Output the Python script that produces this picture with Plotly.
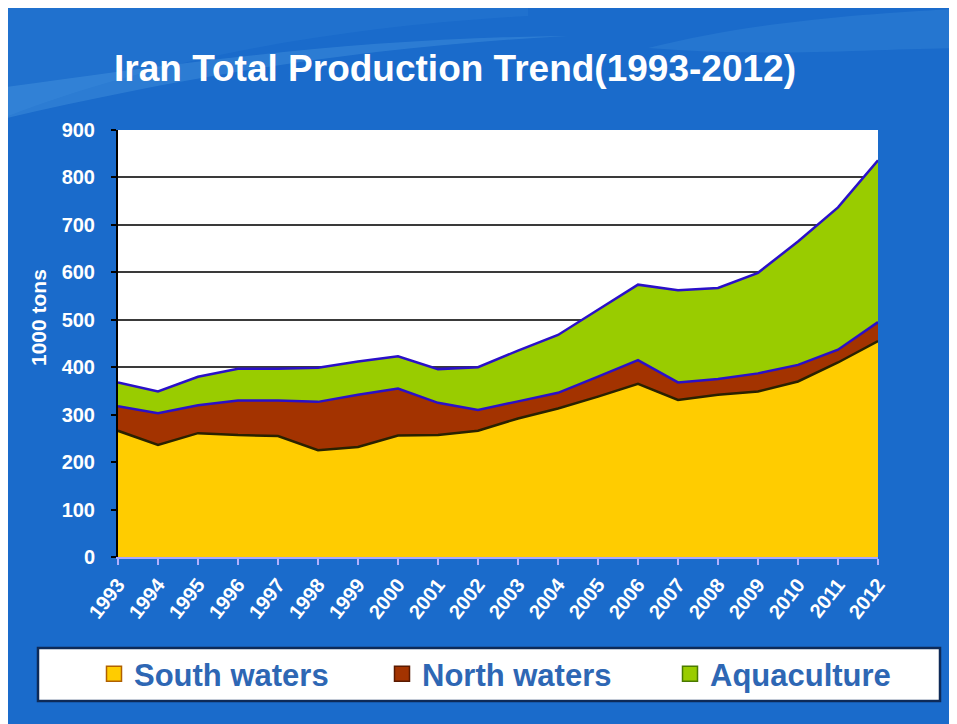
import plotly.graph_objects as go

years = list(range(1993, 2013))
year_labels = [str(y) for y in years]

south_waters = [266, 236, 261, 257, 255, 225, 232, 256, 257, 266,
                292, 313, 338, 365, 331, 342, 349, 370, 410, 455]
north_waters = [52, 67, 59, 73, 75, 102, 110, 99, 68, 44,
                36, 33, 42, 50, 37, 33, 38, 35, 27, 40]
aquaculture = [50, 46, 60, 67, 67, 72, 70, 68, 71, 90,
               107, 122, 141, 159, 194, 192, 212, 260, 300, 341]

series_names = ["South waters", "North waters", "Aquaculture"]
fill_colors = ["#FFCC00", "#A33300", "#99CC00"]
edge_colors = ["#2A2200", "#2A10C8", "#2A10C8"]
legend_edges = ["#B06000", "#5A1A00", "#4A7A00"]
y_ticks = [0, 100, 200, 300, 400, 500, 600, 700, 800, 900]

# page body has an 8px margin; work in figure pixels
W, H = 957, 724
L, R, T, B = 110, 87, 122, 175
pw, ph = W - L - R, H - T - B

def px2x(px):
    return (px - L) / pw

def px2y(py):
    return (H - B - py) / ph

fig = go.Figure()
for name, vals, fc, ec in zip(series_names, [south_waters, north_waters, aquaculture], fill_colors, edge_colors):
    fig.add_trace(go.Scatter(
        x=years, y=vals, name=name, stackgroup="one", mode="lines",
        line=dict(color=ec, width=2.5), fillcolor=fc, showlegend=False,
        hoverinfo="x+y+name"))

# legend proxies (square markers)
for name, fc, lc in zip(series_names, fill_colors, legend_edges):
    fig.add_trace(go.Scatter(
        x=[None], y=[None], name=name, mode="markers",
        marker=dict(symbol="square", size=15, color=fc, line=dict(color=lc, width=1.5)),
        showlegend=True))

font_fam = "Liberation Sans, Arial, sans-serif"

def pt(x, y):
    return f"{px2x(x):.4f},{px2y(y):.4f}"

swoosh = ("M " + pt(-10, 112) + " C " + pt(120, 60) + " " + pt(300, 20) + " " + pt(520, 8)
          + " L " + pt(520, -10) + " L " + pt(-10, -10) + " Z")
swoosh2 = ("M " + pt(-10, 112) + " C " + pt(150, 75) + " " + pt(330, 40) + " " + pt(560, 28)
           + " C " + pt(330, 30) + " " + pt(140, 60) + " " + pt(-10, 80) + " Z")
swoosh3 = ("M " + pt(640, 40) + " C " + pt(760, 10) + " " + pt(880, 5) + " " + pt(960, 0)
           + " L " + pt(960, 40) + " C " + pt(880, 40) + " " + pt(760, 50) + " " + pt(640, 40) + " Z")

fig.update_layout(
    width=W, height=H,
    margin=dict(l=L, r=R, t=T, b=B, pad=0),
    paper_bgcolor="#1A6BCB",
    plot_bgcolor="#FFFFFF",
    title=dict(
        text="<b>Iran Total Production Trend(1993-2012)</b>",
        x=447 / W, xanchor="center", y=1 - 60 / H, yanchor="middle",
        font=dict(family=font_fam, size=37, color="#FFFFFF")),
    xaxis=dict(
        range=[1993, 2012], tickmode="array", tickvals=years, ticktext=year_labels,
        tickangle=-52, ticks="outside", ticklen=6, tickcolor="#B0B0FF", tickwidth=1.5,
        showline=True, linecolor="#A8A8FF", linewidth=2, showgrid=False, zeroline=False,
        tickfont=dict(family=font_fam, size=20, color="#FFFFFF", weight="bold"),
        fixedrange=True),
    yaxis=dict(
        range=[0, 900], tickmode="array", tickvals=y_ticks,
        ticktext=[str(v) for v in y_ticks],
        ticks="outside", ticklen=5, tickcolor="#000000", tickwidth=1.5,
        ticklabelstandoff=12,
        showline=True, linecolor="#000000", linewidth=2,
        showgrid=True, gridcolor="#3A3A3A", gridwidth=2, zeroline=False,
        tickfont=dict(family=font_fam, size=20, color="#FFFFFF", weight="bold"),
        fixedrange=True),
    legend=dict(
        orientation="h", traceorder="normal",
        x=px2x(86), xanchor="left", y=px2y(666), yanchor="middle",
        bgcolor="rgba(0,0,0,0)", borderwidth=0,
        font=dict(family=font_fam, size=31, color="#2E67B4", weight="bold"),
        entrywidth=243, entrywidthmode="pixels", itemclick=False, itemdoubleclick=False),
    annotations=[dict(
        text="<b>1000 tons</b>", textangle=-90, x=px2x(30), y=px2y(310),
        xref="paper", yref="paper", showarrow=False, xanchor="center", yanchor="middle",
        font=dict(family=font_fam, size=21, color="#FFFFFF"))],
    shapes=[
        dict(type="path", xref="paper", yref="paper", path=swoosh,
             fillcolor="rgba(120,200,255,0.07)", line=dict(width=0), layer="below"),
        dict(type="path", xref="paper", yref="paper", path=swoosh2,
             fillcolor="rgba(140,220,255,0.16)", line=dict(width=0), layer="below"),
        dict(type="path", xref="paper", yref="paper", path=swoosh3,
             fillcolor="rgba(140,220,255,0.10)", line=dict(width=0), layer="below"),
        dict(type="rect", xref="paper", yref="paper", x0=px2x(30), x1=px2x(932), y0=px2y(640), y1=px2y(693),
             fillcolor="#FFFFFF", line=dict(color="#0E2A57", width=2.5), layer="below"),
    ],
)

fig.write_html("out.html")
